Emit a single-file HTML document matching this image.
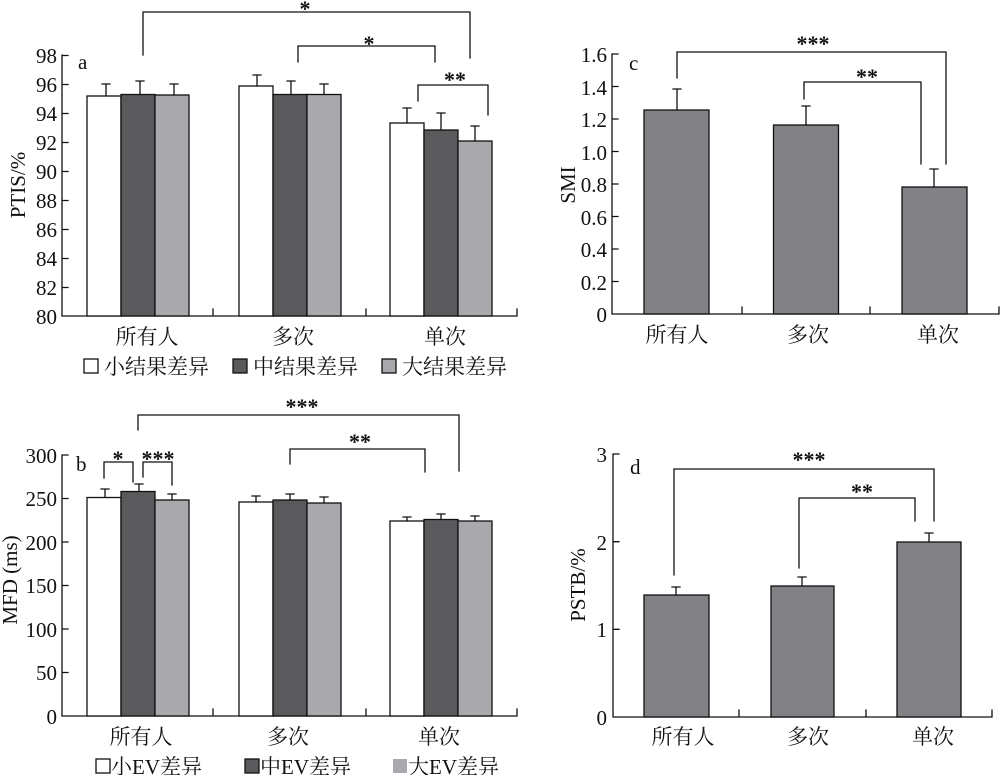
<!DOCTYPE html>
<html><head><meta charset="utf-8"><style>
body{margin:0;background:#fff}
text{font-family:"Liberation Serif","Noto Serif CJK SC","Noto Sans CJK SC",serif;fill:#111}
.t{font-size:21px}
.c{font-size:21px}
.s{font-size:22px;font-weight:bold}
</style></head><body>
<svg width="1000" height="775" viewBox="0 0 1000 775" xmlns="http://www.w3.org/2000/svg" stroke-linecap="square">
<g stroke="#111" stroke-width="1.3" fill="none">
<path d="M62,55 V316 H517 M62,55.5h6 M62,84.5h6 M62,113.5h6 M62,142.5h6 M62,171.5h6 M62,200.5h6 M62,229.5h6 M62,258.5h6 M62,287.5h6 M213,316v-7 M366,316v-7 M517,316v-7"/>
<path d="M143,55V12H470V58 M298,62V46H435V62 M418,101V85H488V115"/>
<path d="M62,455V716H517 M62,455h6 M62,498.5h6 M62,542h6 M62,585.5h6 M62,629h6 M62,672.5h6 M213,716v-7 M366,716v-7 M517,716v-7"/>
<path d="M104,478V462H133V482 M143,477V462H172V485 M138,430V415H459V471 M290,464V449H425V472"/>
<path d="M612,54V314H999 M612,54h6 M612,86.5h6 M612,119h6 M612,151.5h6 M612,184h6 M612,216.5h6 M612,249h6 M612,281.5h6 M742,314v-7 M870,314v-7 M999,314v-7"/>
<path d="M677,78V52H946V164 M804,99V82H921V164"/>
<path d="M613,454V717H992 M613,454h6 M613,541.7h6 M613,629.3h6 M739,717v-7 M866,717v-7 M992,717v-7"/>
<path d="M674,575V469H934V521 M799,568V498H915V521"/>
</g>
<g stroke="#111" stroke-width="1.3">
<rect x="87" y="96" width="34" height="220" fill="#fff"/>
<rect x="121" y="94.5" width="34" height="221.5" fill="#5a595b"/>
<rect x="155" y="95" width="34" height="221" fill="#a9a8ac"/>
<rect x="239" y="86" width="34" height="230" fill="#fff"/>
<rect x="273" y="94.5" width="34" height="221.5" fill="#5a595b"/>
<rect x="307" y="94.5" width="34" height="221.5" fill="#a9a8ac"/>
<rect x="390" y="123" width="34" height="193" fill="#fff"/>
<rect x="424" y="130" width="34" height="186" fill="#5a595b"/>
<rect x="458" y="141" width="34" height="175" fill="#a9a8ac"/>
<rect x="87" y="497.5" width="34" height="218.5" fill="#fff"/>
<rect x="121" y="491.5" width="34" height="224.5" fill="#5a595b"/>
<rect x="155" y="500" width="34" height="216" fill="#a9a8ac"/>
<rect x="239" y="502" width="34" height="214" fill="#fff"/>
<rect x="273" y="500" width="34" height="216" fill="#5a595b"/>
<rect x="307" y="503" width="34" height="213" fill="#a9a8ac"/>
<rect x="390" y="521" width="34" height="195" fill="#fff"/>
<rect x="424" y="519.5" width="34" height="196.5" fill="#5a595b"/>
<rect x="458" y="521" width="34" height="195" fill="#a9a8ac"/>
<rect x="644" y="110" width="65" height="204" fill="#828185"/>
<rect x="773.5" y="125" width="65" height="189" fill="#828185"/>
<rect x="902" y="187" width="65" height="127" fill="#828185"/>
<rect x="644" y="595" width="65" height="122" fill="#828185"/>
<rect x="771" y="586" width="63" height="131" fill="#828185"/>
<rect x="897" y="542" width="64" height="175" fill="#828185"/>
</g>
<g stroke="#111" stroke-width="1.3" fill="none">
<path d="M106,96V84m-4,0h8 M140,94.5V81m-4,0h8 M174,95V84m-4,0h8 M257,86V75m-4,0h8 M291,94.5V81m-4,0h8 M324,94.5V84m-4,0h8 M407,123V108m-4,0h8 M441,130V113m-4,0h8 M475,141V126m-4,0h8"/>
<path d="M105,497V489m-4,0h8 M139,491V484m-4,0h8 M172,500V494m-4,0h8 M256,502V496m-4,0h8 M290,500V494m-4,0h8 M324,503V497m-4,0h8 M407,521V517m-4,0h8 M441,519V514m-4,0h8 M475,521V516m-4,0h8"/>
<path d="M677,110V89m-4,0h8 M806,125V106m-4,0h8 M934,187V169m-4,0h8"/>
<path d="M676,595V587m-4,0h8 M802,586V577m-4,0h8 M929,542V533m-4,0h8"/>
</g>
<g class="t" text-anchor="end">
<text x="57" y="63">98</text><text x="57" y="92">96</text><text x="57" y="121">94</text><text x="57" y="150">92</text><text x="57" y="179">90</text><text x="57" y="208">88</text><text x="57" y="237">86</text><text x="57" y="266">84</text><text x="57" y="295">82</text><text x="57" y="324">80</text>
<text x="57" y="463">300</text><text x="57" y="506">250</text><text x="57" y="550">200</text><text x="57" y="593">150</text><text x="57" y="637">100</text><text x="57" y="680">50</text><text x="57" y="724">0</text>
<text x="607" y="62">1.6</text><text x="607" y="95">1.4</text><text x="607" y="127">1.2</text><text x="607" y="160">1.0</text><text x="607" y="192">0.8</text><text x="607" y="225">0.6</text><text x="607" y="257">0.4</text><text x="607" y="290">0.2</text><text x="607" y="322">0</text>
<text x="607" y="462">3</text><text x="607" y="550">2</text><text x="607" y="637">1</text><text x="607" y="725">0</text>
</g>
<g class="c" text-anchor="middle">
<text x="147" y="344">所有人</text><text x="293" y="344">多次</text><text x="445" y="344">单次</text>
<text x="141" y="744">所有人</text><text x="288" y="744">多次</text><text x="439" y="744">单次</text>
<text x="677" y="342">所有人</text><text x="808" y="342">多次</text><text x="938" y="342">单次</text>
<text x="683" y="744">所有人</text><text x="808" y="744">多次</text><text x="933" y="744">单次</text>
</g>
<g class="s" text-anchor="middle">
<text x="305" y="16">*</text><text x="369" y="51">*</text><text x="455" y="87">**</text>
<text x="118" y="466">*</text><text x="158" y="466">***</text><text x="302" y="414">***</text><text x="360" y="449">**</text>
<text x="813" y="51">***</text><text x="867" y="84">**</text>
<text x="809" y="467">***</text><text x="862" y="499">**</text>
</g>
<g class="c">
<text x="78" y="69">a</text><text x="76" y="471">b</text><text x="629" y="70">c</text><text x="630" y="474">d</text>
</g>
<text class="c" transform="translate(25,185) rotate(-90)" text-anchor="middle">PTIS/%</text>
<text class="c" transform="translate(17,580) rotate(-90)" text-anchor="middle">MFD (ms)</text>
<text class="c" transform="translate(575,185) rotate(-90)" text-anchor="middle">SMI</text>
<text class="c" transform="translate(585,585) rotate(-90)" text-anchor="middle">PSTB/%</text>
<g stroke="#111" stroke-width="1.3">
<rect x="84" y="359" width="14" height="14" fill="#fff"/>
<rect x="233" y="359" width="14" height="14" fill="#5a595b"/>
<rect x="382" y="359" width="14" height="14" fill="#a9a8ac"/>
<rect x="96" y="759" width="14" height="14" fill="#fff"/>
<rect x="245" y="759" width="14" height="14" fill="#5a595b"/>
<rect x="393" y="759" width="14" height="14" fill="#a9a8ac" stroke="none"/>
</g>
<g class="c">
<text x="104" y="374">小结果差异</text><text x="253" y="374">中结果差异</text><text x="402" y="374">大结果差异</text>
<text x="111" y="774">小EV差异</text><text x="260" y="774">中EV差异</text><text x="408" y="774">大EV差异</text>
</g>
</svg>
</body></html>
